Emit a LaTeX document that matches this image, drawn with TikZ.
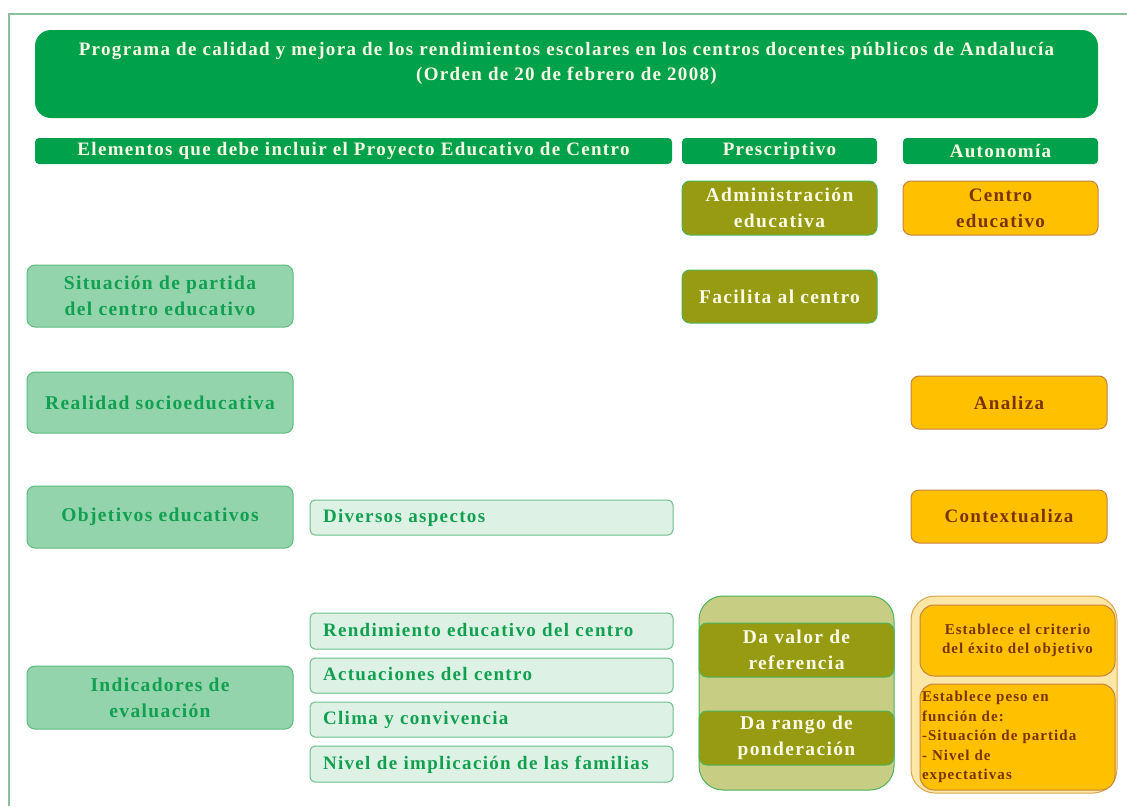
\documentclass[tikz,border=0pt]{standalone}
\usepackage{fontspec}
\setmainfont{Liberation Serif}[LetterSpace=7]
\definecolor{framec}{HTML}{8CBF9F}
\definecolor{titleg}{HTML}{00A14B}
\definecolor{creamw}{HTML}{FAFAE6}
\definecolor{olivef}{HTML}{969B12}
\definecolor{oliveb}{HTML}{4DB35A}
\definecolor{orangef}{HTML}{FFC000}
\definecolor{orangeb}{HTML}{C8823C}
\definecolor{browntx}{HTML}{7A3400}
\definecolor{lgreenf}{HTML}{93D4AC}
\definecolor{lgreenb}{HTML}{5DBB80}
\definecolor{greentx}{HTML}{10A050}
\definecolor{vlgreenf}{HTML}{DDF2E5}
\definecolor{vlgreenb}{HTML}{6DBE8B}
\definecolor{oliveout}{HTML}{C8CD84}
\definecolor{orangeout}{HTML}{FDE7A6}
\definecolor{orangeoutb}{HTML}{DCA550}
\tikzset{
  base/.style={rectangle, inner sep=0pt, align=center, font=\bfseries\fontsize{19}{26}\selectfont, line width=1pt},
  titlebox/.style={base, fill=titleg, rounded corners=16pt, text=creamw, font=\bfseries\fontsize{19}{25}\selectfont},
  headbox/.style={base, fill=titleg, rounded corners=4pt, text=creamw},
  olivebox/.style={base, fill=olivef, draw=oliveb, rounded corners=8pt, text=creamw, font=\bfseries\fontsize{19.5}{26}\selectfont},
  orangebox/.style={base, fill=orangef, draw=orangeb, rounded corners=8pt, text=browntx},
  lgreenbox/.style={base, fill=lgreenf, draw=lgreenb, rounded corners=8pt, text=greentx, font=\bfseries\fontsize{19.5}{26}\selectfont},
  itembox/.style={base, fill=vlgreenf, draw=vlgreenb, rounded corners=5pt, text=greentx, align=left, inner xsep=13pt},
  oliveouter/.style={rectangle, fill=oliveout, draw=oliveb, line width=1pt, rounded corners=24pt, inner sep=0pt},
  orangeouter/.style={rectangle, fill=orangeout, draw=orangeoutb, line width=1pt, rounded corners=24pt, inner sep=0pt},
  smallorange/.style={orangebox, rounded corners=14pt, font=\bfseries\fontsize{15}{19.5}\selectfont},
}
% \mybox{name}{x1}{y1}{x2}{y2}{style}{text}
\newcommand\mybox[7]{%
  \node[#6, minimum width={(#4-#2)*1pt}, minimum height={(#5-#3)*1pt}] (#1) at ({(#2+#4)/2},{(#3+#5)/2}) {#7};}
\begin{document}
\begin{tikzpicture}[x=1pt,y=-1pt]
\useasboundingbox[fill=white] (0,0) rectangle (1127,806);
\coordinate (fa) at (9,806);
\coordinate (fb) at (9,14);
\coordinate (fc) at (1127,14);
\draw[framec, line width=2pt] (fa) -- (fb) -- (fc);

\mybox{title}{35}{30}{1098}{118}{titlebox}{Programa de calidad y mejora de los rendimientos escolares en los centros docentes públicos de Andalucía\\(Orden de 20 de febrero de 2008)\\\mbox{}}
\mybox{h1}{35}{138}{672}{164}{headbox}{Elementos que debe incluir el Proyecto Educativo de Centro}
\mybox{h2}{682}{138}{877}{164}{headbox}{Prescriptivo}
\mybox{h3}{903}{138}{1098}{164}{headbox}{Autonomía}

\mybox{adm}{682}{181}{877}{235}{olivebox}{Administración\\educativa}
\mybox{cen}{903}{181}{1098}{235}{orangebox}{Centro\\educativo}
\mybox{fac}{682}{270}{877}{323}{olivebox}{Facilita al centro}

\mybox{sit}{27}{265}{293}{327}{lgreenbox}{Situación de partida\\del centro educativo}
\mybox{rea}{27}{372}{293}{433}{lgreenbox}{Realidad socioeducativa}
\mybox{obj}{27}{486}{293}{548}{lgreenbox}{Objetivos educativos}
\mybox{ind}{27}{666}{293}{729}{lgreenbox}{Indicadores de\\evaluación}

\mybox{ana}{911}{376}{1107}{429}{orangebox}{Analiza}
\mybox{con}{911}{490}{1107}{543}{orangebox}{Contextualiza}

\node[itembox, minimum width=363pt, minimum height=35pt, text width=337pt] (div) at (491.5,517.5) {\strut Diversos aspectos};
\node[itembox, minimum width=363pt, minimum height=36pt, text width=337pt] (ren) at (491.5,631) {\strut Rendimiento educativo del centro};
\node[itembox, minimum width=363pt, minimum height=35pt, text width=337pt] (act) at (491.5,675.5) {\strut Actuaciones del centro};
\node[itembox, minimum width=363pt, minimum height=35pt, text width=337pt] (cli) at (491.5,719.5) {\strut Clima y convivencia};
\node[itembox, minimum width=363pt, minimum height=36pt, text width=337pt] (niv) at (491.5,764) {\strut Nivel de implicación de las familias};

\mybox{oout}{699}{596}{894}{790}{oliveouter}{}
\mybox{dav}{699}{623}{894}{677}{olivebox}{Da valor de\\referencia}
\mybox{dar}{699}{711}{894}{765}{olivebox}{Da rango de\\ponderación}

\mybox{rout}{911}{596}{1117}{793}{orangeouter}{}
\mybox{est}{920}{605}{1115}{676}{smallorange}{Establece el criterio\\del éxito del objetivo}
\node[smallorange, minimum width=195pt, minimum height=106pt, text width=191pt, align=left, inner xsep=2pt] (pes) at (1017.5,737) {Establece peso en\\función de:\\-Situación de partida\\- Nivel de\\expectativas};
\end{tikzpicture}
\end{document}
